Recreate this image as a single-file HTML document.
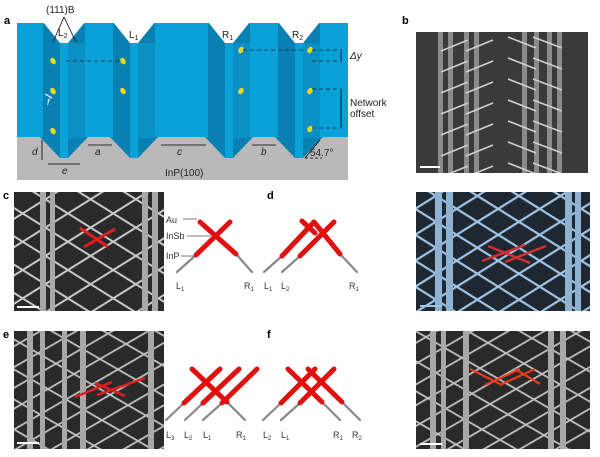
<!DOCTYPE html>
<html><head><meta charset="utf-8"><style>
html,body{margin:0;padding:0;background:#fff;width:600px;height:457px;overflow:hidden}
svg{display:block}
text{font-family:"Liberation Sans",sans-serif}
</style></head><body>
<svg width="600" height="457" viewBox="0 0 600 457" xmlns="http://www.w3.org/2000/svg">
<defs>
<pattern id="dA" width="24" height="24" patternUnits="userSpaceOnUse" patternTransform="rotate(-32)"><rect width="24" height="2" fill="#c8c8c8"/></pattern>
<pattern id="dB" width="24" height="24" patternUnits="userSpaceOnUse" patternTransform="rotate(32)"><rect width="24" height="2" fill="#c8c8c8"/></pattern>
<pattern id="bA" width="22" height="22" patternUnits="userSpaceOnUse" patternTransform="rotate(-32)"><rect width="22" height="2.2" fill="#9fc4e6"/></pattern>
<pattern id="bB" width="22" height="22" patternUnits="userSpaceOnUse" patternTransform="rotate(32)"><rect width="22" height="2.2" fill="#9fc4e6"/></pattern>
<pattern id="eA" width="18" height="18" patternUnits="userSpaceOnUse" patternTransform="rotate(-30)"><rect width="18" height="1.8" fill="#c0c0c0"/></pattern>
<pattern id="eB" width="26" height="26" patternUnits="userSpaceOnUse" patternTransform="rotate(30)"><rect width="26" height="1.8" fill="#c0c0c0"/></pattern>
</defs>

<!-- Panel a -->
<text x="4" y="24" font-size="11" font-weight="bold">a</text>
<rect x="17" y="23" width="331" height="115" fill="#0aa0d8"/>
<rect x="17" y="137" width="331" height="43" fill="#b9b9b9"/>
<g fill="#0880b2">
<rect x="43" y="23" width="42" height="115"/>
<rect x="113" y="23" width="42" height="115"/>
<rect x="208" y="23" width="42" height="115"/>
<rect x="278" y="23" width="42" height="115"/>
<polygon points="40,137 60,158 68,158 88,137"/>
<polygon points="110,137 130,158 138,158 158,137"/>
<polygon points="205,137 225,158 233,158 253,137"/>
<polygon points="275,137 295,158 303,158 323,137"/>
</g>
<g fill="#0aa0d8">
<rect x="60" y="43" width="8" height="115"/>
<rect x="130" y="43" width="8" height="115"/>
<rect x="225" y="43" width="8" height="115"/>
<rect x="295" y="43" width="8" height="115"/>
</g>
<g fill="#0a90c2"><rect x="68" y="43" width="17" height="95"/><rect x="138" y="43" width="17" height="95"/><rect x="233" y="43" width="17" height="95"/><rect x="303" y="43" width="17" height="95"/></g>
<g fill="#fff">
<polygon points="43,22 60,43 68,43 85,22"/>
<polygon points="113,22 130,43 138,43 155,22"/>
<polygon points="208,22 225,43 233,43 250,22"/>
<polygon points="278,22 295,43 303,43 320,22"/>
</g>
<g fill="#e8d820">
<ellipse cx="53" cy="61" rx="2.5" ry="3.5" transform="rotate(-30 53 61)"/>
<ellipse cx="53" cy="91" rx="2.5" ry="3.5" transform="rotate(-30 53 91)"/>
<ellipse cx="53" cy="131" rx="2.5" ry="3.5" transform="rotate(-30 53 131)"/>
<ellipse cx="123" cy="61" rx="2.5" ry="3.5" transform="rotate(-30 123 61)"/>
<ellipse cx="123" cy="91" rx="2.5" ry="3.5" transform="rotate(-30 123 91)"/>
<ellipse cx="241" cy="50" rx="2.5" ry="3.5" transform="rotate(30 241 50)"/>
<ellipse cx="241" cy="91" rx="2.5" ry="3.5" transform="rotate(30 241 91)"/>
<ellipse cx="310" cy="50" rx="2.5" ry="3.5" transform="rotate(30 310 50)"/>
<ellipse cx="310" cy="91" rx="2.5" ry="3.5" transform="rotate(30 310 91)"/>
<ellipse cx="310" cy="129" rx="2.5" ry="3.5" transform="rotate(30 310 129)"/>
</g>
<g stroke="#123" stroke-dasharray="4,3" stroke-width="0.8" fill="none">
<line x1="66" y1="61" x2="119" y2="61"/>
<line x1="312" y1="50" x2="342" y2="50"/>
<line x1="312" y1="61" x2="342" y2="61"/>
<line x1="312" y1="89" x2="342" y2="89"/>
<line x1="312" y1="128" x2="342" y2="128"/>
<line x1="243" y1="50" x2="306" y2="50"/>
</g>
<g stroke="#000" stroke-width="0.8" fill="#000">
<line x1="341" y1="51" x2="341" y2="60"/><line x1="341" y1="90" x2="341" y2="127"/>
<line x1="64" y1="17" x2="53" y2="42"/><line x1="64" y1="17" x2="76" y2="42"/>
<line x1="88" y1="145" x2="112" y2="145"/><line x1="161" y1="145" x2="206" y2="145"/>
<line x1="252" y1="145" x2="276" y2="145"/><line x1="42" y1="140" x2="42" y2="160"/>
<line x1="48" y1="164" x2="80" y2="164"/>
<line x1="305" y1="158" x2="322" y2="158" stroke-dasharray="3,2"/>
<line x1="305" y1="158" x2="320" y2="140"/>
</g>
<line x1="45" y1="94" x2="52" y2="98" stroke="#fff" stroke-width="1.2"/>
<text x="47" y="105" font-size="9" font-style="italic" fill="#fff">f</text>
<g font-size="10" fill="#222">
<text x="46" y="13">(111)B</text>
<text x="58" y="36">L<tspan font-size="7" dy="2">2</tspan></text>
<text x="129" y="38">L<tspan font-size="7" dy="2">1</tspan></text>
<text x="222" y="38">R<tspan font-size="7" dy="2">1</tspan></text>
<text x="292" y="38">R<tspan font-size="7" dy="2">2</tspan></text>
<text x="350" y="59" font-style="italic">Δy</text>
<text x="350" y="106">Network</text>
<text x="350" y="117">offset</text>
<text x="32" y="155" font-style="italic">d</text>
<text x="95" y="155" font-style="italic">a</text>
<text x="177" y="155" font-style="italic">c</text>
<text x="261" y="155" font-style="italic">b</text>
<text x="62" y="174" font-style="italic">e</text>
<text x="310" y="156">54.7°</text>
<text x="165" y="176">InP(100)</text>
</g>

<!-- Panel b -->
<text x="402" y="24" font-size="11" font-weight="bold">b</text>
<rect x="416" y="32" width="172" height="141" fill="#3a3a3a"/>
<g fill="#8a8a8a">
<rect x="438" y="32" width="5" height="141"/><rect x="448" y="32" width="5" height="141"/>
<rect x="464" y="32" width="5" height="141"/><rect x="474" y="32" width="5" height="141"/>
<rect x="522" y="32" width="5" height="141"/><rect x="534" y="32" width="5" height="141"/>
<rect x="547" y="32" width="5" height="141"/><rect x="557" y="32" width="5" height="141"/>
</g>
<g stroke="#d0d0d0" stroke-width="1.6">
<g id="bl"><line x1="441" y1="51" x2="468" y2="40"/><line x1="466" y1="51" x2="493" y2="40"/><line x1="508" y1="37" x2="536" y2="48"/><line x1="533" y1="37" x2="562" y2="48"/></g>
<use href="#bl" y="21"/><use href="#bl" y="42"/><use href="#bl" y="63"/><use href="#bl" y="84"/><use href="#bl" y="105"/><use href="#bl" y="126"/>
</g>
<rect x="420" y="166" width="20" height="2" fill="#fff"/>
<rect x="588" y="20" width="12" height="160" fill="#fff"/>
<rect x="416" y="173" width="180" height="18" fill="#fff"/>

<!-- Panel c -->
<text x="3" y="199" font-size="11" font-weight="bold">c</text>
<rect x="14" y="192" width="150" height="119" fill="#2a2a2a"/>
<rect x="14" y="192" width="150" height="119" fill="url(#dA)"/>
<rect x="14" y="192" width="150" height="119" fill="url(#dB)"/>
<g fill="#a8a8a8"><rect x="40" y="192" width="6" height="119"/><rect x="50" y="192" width="5" height="119"/><rect x="142" y="192" width="6" height="119"/><rect x="152" y="192" width="6" height="119"/></g>
<g stroke="#e02020" stroke-width="3"><line x1="80" y1="228" x2="108" y2="247"/><line x1="84" y1="247" x2="115" y2="229"/></g>
<rect x="17" y="306" width="22" height="2" fill="#fff"/>

<!-- Panel d -->
<text x="267" y="199" font-size="11" font-weight="bold">d</text>
<rect x="416" y="192" width="174" height="119" fill="#1f2730"/>
<rect x="416" y="192" width="174" height="119" fill="url(#bA)"/>
<rect x="416" y="192" width="174" height="119" fill="url(#bB)"/>
<g fill="#8fb2d2"><rect x="435" y="192" width="7" height="119"/><rect x="446" y="192" width="7" height="119"/><rect x="565" y="192" width="7" height="119"/><rect x="575" y="192" width="6" height="119"/></g>
<g stroke="#d03030" stroke-width="2.5"><line x1="488" y1="246" x2="530" y2="263"/><line x1="482" y1="261" x2="525" y2="245"/><line x1="505" y1="262" x2="546" y2="246"/></g>
<rect x="420" y="305" width="22" height="2" fill="#9fc4e6"/>

<!-- Panel e -->
<text x="3" y="338" font-size="11" font-weight="bold">e</text>
<rect x="14" y="331" width="150" height="118" fill="#2a2a2a"/>
<rect x="14" y="331" width="150" height="118" fill="url(#eA)"/>
<rect x="14" y="331" width="150" height="118" fill="url(#eB)"/>
<g fill="#a8a8a8"><rect x="27" y="331" width="6" height="118"/><rect x="40" y="331" width="5" height="118"/><rect x="62" y="331" width="5" height="118"/><rect x="80" y="331" width="6" height="118"/><rect x="148" y="331" width="6" height="118"/></g>
<g stroke="#e02020" stroke-width="2.5"><line x1="75" y1="397" x2="112" y2="382"/><line x1="97" y1="395" x2="145" y2="378"/><line x1="95" y1="383" x2="125" y2="396"/></g>
<rect x="17" y="442" width="22" height="2" fill="#fff"/>

<!-- Panel f -->
<text x="267" y="338" font-size="11" font-weight="bold">f</text>
<rect x="416" y="331" width="174" height="118" fill="#2a2a2a"/>
<rect x="416" y="331" width="174" height="118" fill="url(#eA)"/>
<rect x="416" y="331" width="174" height="118" fill="url(#eB)"/>
<g fill="#a8a8a8"><rect x="430" y="331" width="6" height="118"/><rect x="441" y="331" width="5" height="118"/><rect x="463" y="331" width="6" height="118"/><rect x="548" y="331" width="6" height="118"/><rect x="560" y="331" width="6" height="118"/></g>
<g stroke="#ff3a1a" stroke-width="2"><line x1="470" y1="369" x2="502" y2="385"/><line x1="485" y1="385" x2="520" y2="369"/><line x1="500" y1="385" x2="535" y2="369"/><line x1="515" y1="369" x2="540" y2="384"/></g>
<rect x="420" y="443" width="22" height="2" fill="#fff"/>

<!-- Schematics -->
<g stroke-linecap="round">
<g stroke="#888" stroke-width="2.2">
<line x1="177" y1="272" x2="196" y2="255"/><line x1="236" y1="254" x2="252" y2="272"/>
<line x1="264" y1="272" x2="282" y2="256"/><line x1="282" y1="272" x2="300" y2="256"/><line x1="340" y1="254" x2="357" y2="272"/>
<line x1="166" y1="420" x2="184" y2="403"/><line x1="185" y1="420" x2="203" y2="403"/><line x1="203" y1="420" x2="222" y2="403"/><line x1="227" y1="402" x2="245" y2="420"/>
<line x1="263" y1="420" x2="281" y2="403"/><line x1="281" y1="420" x2="300" y2="403"/><line x1="322" y1="402" x2="340" y2="420"/><line x1="342" y1="402" x2="360" y2="420"/>
</g>
<g stroke="#e01010" stroke-width="5">
<line x1="196" y1="255" x2="230" y2="222"/><line x1="200" y1="222" x2="236" y2="254"/>
<line x1="282" y1="256" x2="314" y2="222"/><line x1="300" y1="256" x2="334" y2="222"/><line x1="302" y1="221" x2="315" y2="233"/><line x1="314" y1="222" x2="340" y2="254"/>
<line x1="184" y1="403" x2="220" y2="369"/><line x1="203" y1="403" x2="239" y2="369"/><line x1="222" y1="403" x2="257" y2="369"/><line x1="192" y1="369" x2="227" y2="402"/>
<line x1="281" y1="403" x2="315" y2="369"/><line x1="300" y1="403" x2="334" y2="369"/><line x1="288" y1="369" x2="322" y2="402"/><line x1="308" y1="369" x2="342" y2="402"/>
</g>
</g>
<g stroke="#555" stroke-width="0.8">
<line x1="183" y1="219" x2="197" y2="219"/><line x1="187" y1="236" x2="211" y2="236"/><line x1="181" y1="256" x2="193" y2="256"/>
</g>
<g font-size="9" fill="#333">
<text x="166" y="223">Au</text><text x="166" y="239">InSb</text><text x="166" y="259">InP</text>
<text x="176" y="289">L<tspan font-size="6" dy="2">1</tspan></text><text x="244" y="289">R<tspan font-size="6" dy="2">1</tspan></text>
<text x="264" y="289">L<tspan font-size="6" dy="2">1</tspan></text><text x="281" y="289">L<tspan font-size="6" dy="2">2</tspan></text><text x="349" y="289">R<tspan font-size="6" dy="2">1</tspan></text>
<text x="166" y="438">L<tspan font-size="6" dy="2">3</tspan></text><text x="184" y="438">L<tspan font-size="6" dy="2">2</tspan></text><text x="203" y="438">L<tspan font-size="6" dy="2">1</tspan></text><text x="236" y="438">R<tspan font-size="6" dy="2">1</tspan></text>
<text x="263" y="438">L<tspan font-size="6" dy="2">2</tspan></text><text x="281" y="438">L<tspan font-size="6" dy="2">1</tspan></text><text x="333" y="438">R<tspan font-size="6" dy="2">1</tspan></text><text x="352" y="438">R<tspan font-size="6" dy="2">2</tspan></text>
</g>
</svg>
</body></html>
